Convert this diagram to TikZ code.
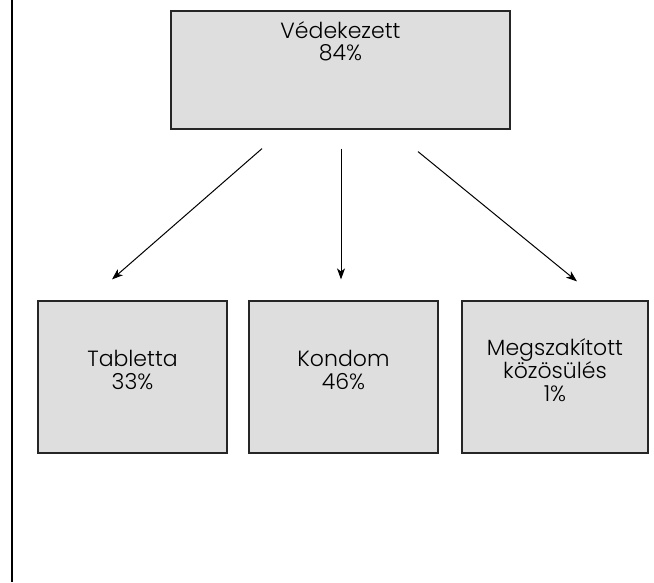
\documentclass[tikz,border=0pt]{standalone}
\usepackage{fontspec}
\setmainfont{Poppins}[UprightFont=* Light]
\usetikzlibrary{arrows.meta}
\definecolor{boxgray}{RGB}{222,222,222}
\tikzset{
  box/.style={draw=black!85, line width=1.2pt, fill=boxgray, minimum width=189pt, minimum height=152pt, inner sep=0pt},
  lbl/.style={align=center, anchor=base, inner sep=0pt, font=\fontsize{22}{23}\selectfont},
  arr/.style={-{Stealth[length=11pt,width=8pt,inset=3pt]}, line width=1pt}
}
\begin{document}
\begin{tikzpicture}[x=1pt,y=-1pt]
\useasboundingbox (0,0) rectangle (654,582);
% side rule
\draw[line width=2pt] (11.5,0) -- (11.5,582);
% boxes
\node[box, minimum width=339pt, minimum height=118pt] (vedek) at (340.5,70) {};
\node[box] (tabl) at (132.5,377) {};
\node[box] (kond) at (343.5,377) {};
\node[box, minimum width=186pt] (megsz) at (555,377) {};
% labels (base = last line)
\node[lbl, font=\fontsize{22}{22}\selectfont] (vedektxt) at (340.5,60) {Védekezett\\84\%};
\node[lbl] (tabltxt) at (132.5,389) {Tabletta\\33\%};
\node[lbl] (kondtxt) at (343.5,389) {Kondom\\46\%};
\node[lbl] (megsztxt) at (555,401) {Megszakított\\közösülés\\1\%};
% arrows
\coordinate (s1) at ([xshift=-78.5pt,yshift=-19pt]vedek.south);
\coordinate (s2) at ([xshift=0.5pt,yshift=-19pt]vedek.south);
\coordinate (s3) at ([xshift=77.5pt,yshift=-22pt]vedek.south);
\coordinate (e1) at ([xshift=-20.5pt,yshift=21pt]tabl.north);
\coordinate (e2) at ([xshift=-2.5pt,yshift=21pt]kond.north);
\coordinate (e3) at ([xshift=22pt,yshift=19pt]megsz.north);
\draw[arr] (s1) -- (e1);
\draw[arr] (s2) -- (e2);
\draw[arr] (s3) -- (e3);
\end{tikzpicture}
\end{document}
